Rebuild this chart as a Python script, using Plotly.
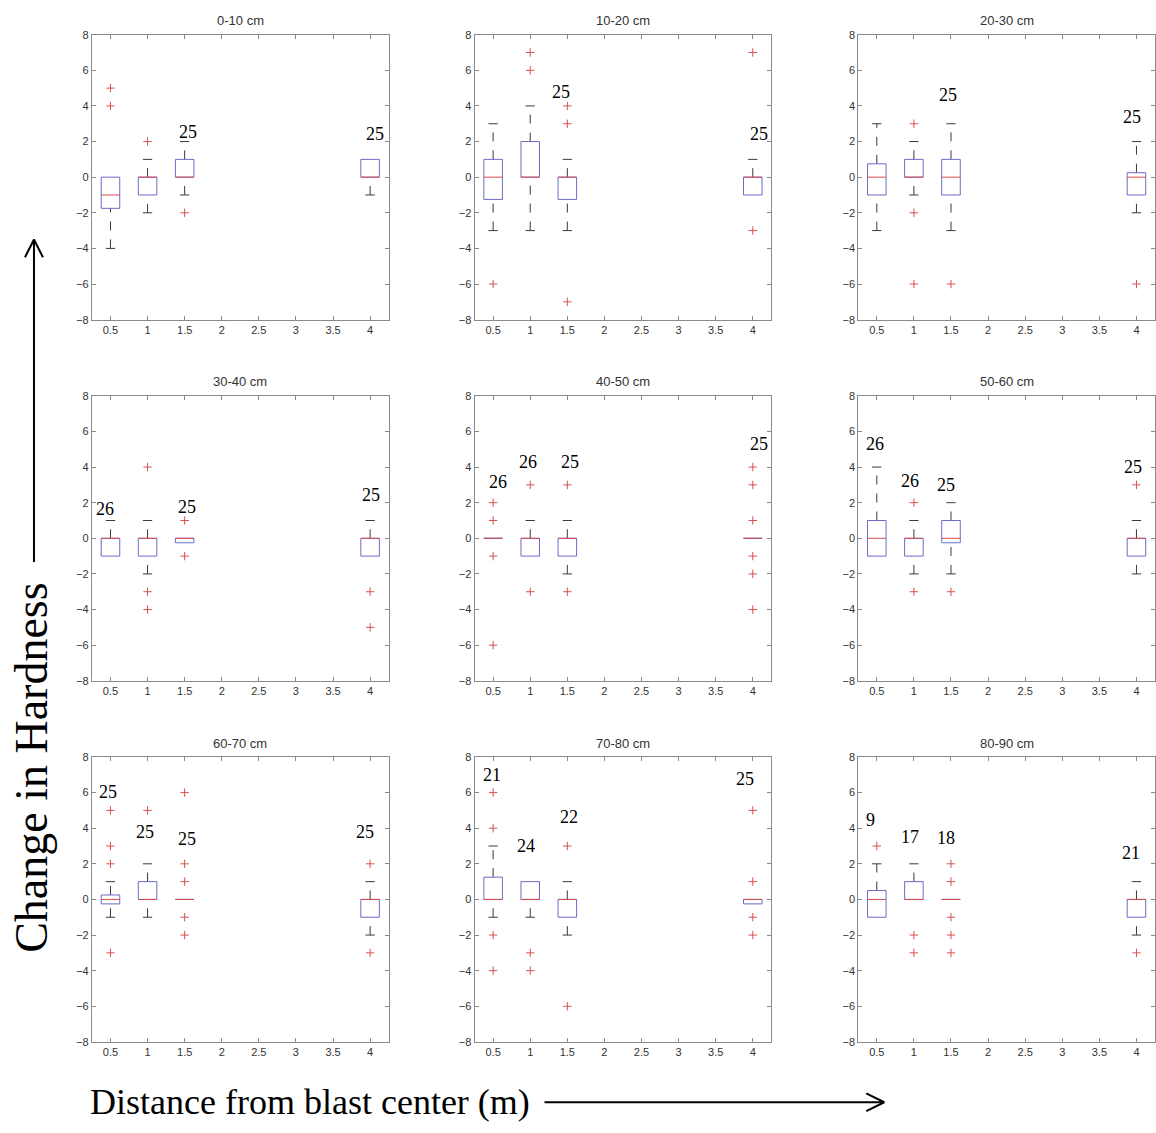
import plotly.graph_objects as go

# ---------------- data ----------------
depths = ["0-10 cm", "10-20 cm", "20-30 cm",
          "30-40 cm", "40-50 cm", "50-60 cm",
          "60-70 cm", "70-80 cm", "80-90 cm"]
distances = [0.5, 1.0, 1.5, 4.0]
tick_values = [0.5, 1.0, 1.5, 2.0, 2.5, 3.0, 3.5, 4.0]
tick_labels = ["0.5", "1", "1.5", "2", "2.5", "3", "3.5", "4"]
y_ticks = [-8, -6, -4, -2, 0, 2, 4, 6, 8]

q1 = [
    [-1.75, -1, 0, 0],
    [-1.25, 0, -1.25, -1],
    [-1, 0, -1, -1],
    [-1, -1, -0.25, -1],
    [0, -1, -1, 0],
    [-1, -1, -0.25, -1],
    [-0.25, 0, 0, -1],
    [0, 0, -1, -0.25],
    [-1, 0, 0, -1],
]
medians = [
    [-1, 0, 0, 0],
    [0, 0, 0, 0],
    [0, 0, 0, 0],
    [0, 0, 0, 0],
    [0, 0, 0, 0],
    [0, 0, 0, 0],
    [0, 0, 0, 0],
    [0, 0, 0, 0],
    [0, 0, 0, 0],
]
q3 = [
    [0, 0, 1, 1],
    [1, 2, 0, 0],
    [0.75, 1, 1, 0.25],
    [0, 0, 0, 0],
    [0, 0, 0, 0],
    [1, 0, 1, 0],
    [0.25, 1, 0, 0],
    [1.25, 1, 0, 0],
    [0.5, 1, 0, 0],
]
whisker_low = [
    [-4, -2, -1, -1],
    [-3, -3, -3, -1],
    [-3, -1, -3, -2],
    [-1, -2, -0.25, -1],
    [0, -1, -2, 0],
    [-1, -2, -2, -2],
    [-1, -1, 0, -2],
    [-1, -1, -2, -0.25],
    [-1, 0, 0, -2],
]
whisker_high = [
    [0, 1, 2, 1],
    [3, 4, 1, 1],
    [3, 2, 3, 2],
    [1, 1, 0, 1],
    [0, 1, 1, 0],
    [4, 1, 2, 1],
    [1, 2, 0, 1],
    [3, 1, 1, 0],
    [2, 2, 0, 1],
]
outliers = [
    [[4, 5], [2], [-2], []],
    [[-6], [6, 7], [3, 4, -7], [7, -3]],
    [[], [3, -2, -6], [-6], [-6]],
    [[], [4, -3, -4], [1, -1], [-3, -5]],
    [[2, 1, -1, -6], [3, -3], [3, -3], [4, 3, 1, -1, -2, -4]],
    [[], [2, -3], [-3], [3]],
    [[5, 3, 2, -3], [5], [6, 2, 1, -1, -2], [2, -3]],
    [[6, 4, -2, -4], [-3, -4], [3, -6], [5, 1, -1, -2]],
    [[3], [-2, -3], [2, 1, -1, -2, -3], [-3]],
]
counts = [
    [None, None, 25, 25],
    [None, None, 25, 25],
    [None, None, 25, 25],
    [26, None, 25, 25],
    [26, 26, 25, 25],
    [26, 26, 25, 25],
    [25, 25, 25, 25],
    [21, 24, 22, 25],
    [9, 17, 18, 21],
]

# ---------------- layout helpers (positions / styles) ----------------
count_label_pos = [
    [None, None, (1.55, 2.55), (4.07, 2.4)],
    [None, None, (1.42, 4.78), (4.09, 2.4)],
    [None, None, (1.46, 4.6), (3.94, 3.4)],
    [(0.42, 1.65), None, (1.53, 1.75), (4.01, 2.45)],
    [(0.56, 3.15), (0.97, 4.31), (1.53, 4.31), (4.08, 5.31)],
    [(0.48, 5.31), (0.95, 3.24), (1.43, 3.02), (3.95, 4.02)],
    [(0.47, 6.02), (0.97, 3.76), (1.53, 3.37), (3.93, 3.8)],
    [(0.48, 7.0), (0.94, 3.0), (1.52, 4.63), (3.89, 6.76)],
    [(0.41, 4.48), (0.95, 3.52), (1.43, 3.43), (3.93, 2.59)],
]

W, H = 1156, 1133
col_px = [(92, 389), (475, 772), (859, 1156)]
row_px = [(29, 317), (394, 682), (759, 1047)]
HALF_BOX = 0.125
HALF_CAP = 0.0625

BOX_COLOR = "#6b6bc8"
MED_COLOR = "#d84a4a"
WHISK_COLOR = "#3a3a3a"
OUT_COLOR = "#d85050"
AX_COLOR = "#8a8a8a"
TXT_COLOR = "#333333"


def fx(px):
    return px / W


def fy(py):
    return 1 - py / H


fig = go.Figure()
annotations = []
shapes = []
layout_axes = {}

for k, depth in enumerate(depths):
    r, c = divmod(k, 3)
    xa = f"x{k + 1}" if k else "x"
    ya = f"y{k + 1}" if k else "y"
    xkey = f"xaxis{k + 1}" if k else "xaxis"
    ykey = f"yaxis{k + 1}" if k else "yaxis"
    x0, x1 = col_px[c]
    y0, y1 = row_px[r]

    bx, by, mx, my, wx, wy, cx, cy, ox, oy = [], [], [], [], [], [], [], [], [], []
    for i, p in enumerate(distances):
        lo, a, m, b, hi = whisker_low[k][i], q1[k][i], medians[k][i], q3[k][i], whisker_high[k][i]
        bx += [p - HALF_BOX, p + HALF_BOX, p + HALF_BOX, p - HALF_BOX, p - HALF_BOX, None]
        by += [a, a, b, b, a, None]
        mx += [p - HALF_BOX, p + HALF_BOX, None]
        my += [m, m, None]
        if hi > b:
            wx += [p, p, None]
            wy += [b, hi, None]
            cx += [p - HALF_CAP, p + HALF_CAP, None]
            cy += [hi, hi, None]
        if lo < a:
            wx += [p, p, None]
            wy += [lo, a, None]
            cx += [p - HALF_CAP, p + HALF_CAP, None]
            cy += [lo, lo, None]
        for v in outliers[k][i]:
            ox.append(p)
            oy.append(v)
        if counts[k][i] is not None:
            lx, ly = count_label_pos[k][i]
            annotations.append(dict(
                x=lx, y=ly, xref=xa, yref=ya, text=str(counts[k][i]),
                showarrow=False, xanchor="center", yanchor="middle",
                font=dict(family="Liberation Serif", size=18, color="black")))

    common = dict(xaxis=xa, yaxis=ya, showlegend=False, hoverinfo="skip")
    fig.add_trace(go.Scatter(x=wx, y=wy, mode="lines",
                             line=dict(color=WHISK_COLOR, width=1, dash="dash"), **common))
    fig.add_trace(go.Scatter(x=cx, y=cy, mode="lines",
                             line=dict(color=WHISK_COLOR, width=1), **common))
    fig.add_trace(go.Scatter(x=bx, y=by, mode="lines",
                             line=dict(color=BOX_COLOR, width=1), **common))
    fig.add_trace(go.Scatter(x=mx, y=my, mode="lines",
                             line=dict(color=MED_COLOR, width=1), **common))
    fig.add_trace(go.Scatter(x=ox, y=oy, mode="markers",
                             marker=dict(symbol="cross-thin", size=6,
                                         line=dict(color=OUT_COLOR, width=1)),
                             **common))

    axis_style = dict(showline=True, linecolor=AX_COLOR, linewidth=1,
                      ticks="inside", ticklen=4, tickcolor=AX_COLOR, showgrid=False,
                      zeroline=False, mirror="allticks",
                      tickfont=dict(family="Liberation Sans", size=11, color=TXT_COLOR))
    layout_axes[xkey] = dict(domain=[fx(x0), fx(x1)], range=[0.25, 4.25],
                             tickvals=tick_values, ticktext=tick_labels, anchor=ya,
                             **axis_style)
    layout_axes[ykey] = dict(domain=[fy(y1), fy(y0)], range=[-8, 8],
                             tickvals=y_ticks, anchor=xa, **axis_style)

    annotations.append(dict(
        x=fx((x0 + x1) / 2), y=fy(y0 - 14), xref="paper", yref="paper",
        text=depth, showarrow=False, xanchor="center", yanchor="middle",
        font=dict(family="Liberation Sans", size=13, color=TXT_COLOR)))

# big axis labels
annotations.append(dict(
    x=fx(310), y=fy(1108), xref="paper", yref="paper",
    text="Distance from blast center (m)", showarrow=False,
    xanchor="center", yanchor="middle",
    font=dict(family="Liberation Serif", size=36, color="black")))
annotations.append(dict(
    x=fx(32), y=fy(770), xref="paper", yref="paper",
    text="Change in Hardness", showarrow=False, textangle=-90,
    xanchor="center", yanchor="middle",
    font=dict(family="Liberation Serif", size=46, color="black")))


def pline(xa_, ya_, xb_, yb_):
    return dict(type="line", xref="paper", yref="paper",
                x0=fx(xa_), y0=fy(ya_), x1=fx(xb_), y1=fy(yb_),
                line=dict(color="black", width=2))


# horizontal arrow
shapes.append(pline(545, 1108, 885, 1108))
shapes.append(pline(885, 1108, 867, 1099))
shapes.append(pline(885, 1108, 867, 1117))
# vertical arrow
shapes.append(pline(34, 562, 34, 236))
shapes.append(pline(34, 236, 25, 254))
shapes.append(pline(34, 236, 43, 254))

fig.update_layout(
    width=W, height=H,
    margin=dict(l=0, r=0, t=0, b=0),
    paper_bgcolor="white", plot_bgcolor="white",
    annotations=annotations, shapes=shapes,
    **layout_axes,
)

fig.write_html(
    "out.html",
    config={"displayModeBar": False},
    post_script="document.body.style.margin='0';document.body.style.overflow='hidden';",
)
